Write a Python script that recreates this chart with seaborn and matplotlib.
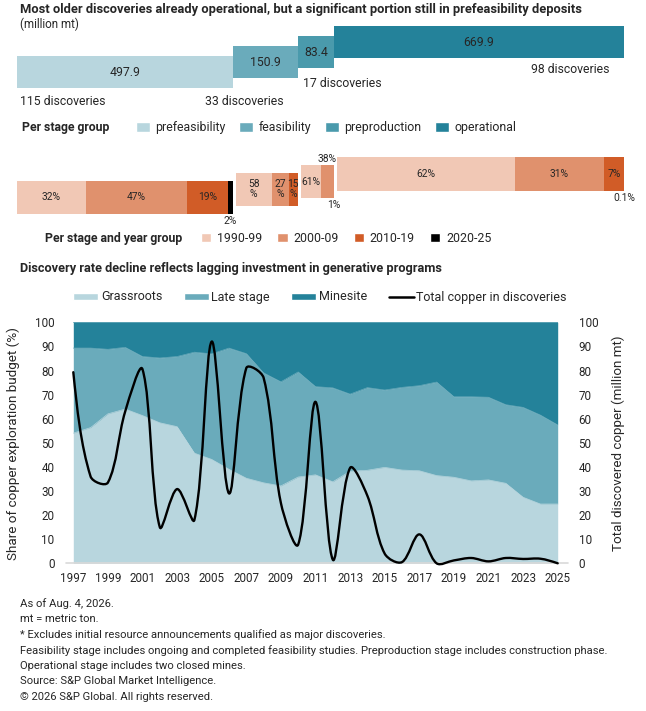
import matplotlib
matplotlib.use("Agg")
import matplotlib.pyplot as plt
from matplotlib.patches import Patch, PathPatch
from matplotlib.lines import Line2D
from matplotlib.path import Path
import seaborn as sns
import numpy as np

# Copper by development stage (million mt) and number of discoveries
stages = ["prefeasibility", "feasibility", "preproduction", "operational"]
stage_copper = [497.9, 150.9, 83.4, 669.9]
stage_discoveries = [115, 33, 17, 98]

# Share of each stage by discovery period (%)
periods = ["1990-99", "2000-09", "2010-19", "2020-25"]
share_1990s = [32, 58, 61, 62]
share_2000s = [47, 27, 38, 31]
share_2010s = [19, 15, 1, 7]
share_2020s = [2, 0, 0, 0.1]

# Exploration budget split (%) and copper in discoveries (million mt)
years = [1997, 1998, 1999, 2000, 2001, 2002, 2003, 2004, 2005, 2006,
         2007, 2008, 2009, 2010, 2011, 2012, 2013, 2014, 2015, 2016,
         2017, 2018, 2019, 2020, 2021, 2022, 2023, 2024, 2025]
grassroots = [54.0, 56.3, 62.0, 64.0, 61.3, 58.3, 56.7, 45.7, 43.1, 39.0,
              35.3, 33.4, 32.1, 35.8, 36.7, 33.8, 38.2, 38.6, 39.8, 38.7,
              38.4, 36.4, 35.7, 34.2, 34.6, 33.2, 27.4, 24.6, 24.6]
late_stage = [35.3, 33.0, 26.8, 25.6, 24.5, 26.9, 29.1, 41.9, 43.8, 50.3,
              51.7, 45.6, 43.2, 43.6, 36.6, 39.0, 32.0, 34.3, 32.1, 34.3,
              35.3, 38.8, 33.4, 34.9, 34.3, 32.6, 37.3, 36.9, 32.8]
minesite = [10.7, 10.7, 11.2, 10.4, 14.2, 14.8, 14.2, 12.4, 13.1, 10.7,
            13.0, 21.0, 24.7, 20.6, 26.7, 27.2, 29.8, 27.1, 28.1, 27.0,
            26.3, 24.8, 30.9, 30.9, 31.1, 34.2, 35.3, 38.5, 42.6]
copper_found = [79.3, 36, 33.5, 63, 80.5, 15, 30.8, 18, 92, 29,
                81, 77, 25, 7.8, 67, 1.5, 39.6, 28, 4, 0.5,
                12, 0, 1.2, 2.2, 0.8, 2.2, 1.8, 1.9, 0]

stage_colors = ["#B8D6DE", "#6AABBB", "#4A9AAC", "#24829A"]
period_colors = ["#F1C8B5", "#E0916D", "#D15C27", "#000000"]
budget_colors = [stage_colors[0], stage_colors[1], stage_colors[3]]
txt = "#262626"

sns.set_theme(style="white")
plt.rcParams["font.family"] = ["Roboto", "DejaVu Sans"]

W, H = 646, 711
fig = plt.figure(figsize=(W / 100, H / 100), dpi=100)


def box(l, t, r, b):
    # pixel box (from top-left) -> figure rect
    return [l / W, 1 - b / H, (r - l) / W, (b - t) / H]


def fy(py):
    return 1 - py / H


fig.text(20 / W, fy(10), "Most older discoveries already operational, but a significant portion still in prefeasibility deposits",
         fontsize=9.3, fontweight="bold", color=txt, va="center")
fig.text(20 / W, fy(24), "(million mt)", fontsize=8.4, color=txt, va="center")

# ---- top: stage totals, width proportional to copper ----
ax1 = fig.add_axes(box(17, 18.3, 624, 113.3))
total = sum(stage_copper)
lefts = np.concatenate([[0], np.cumsum(stage_copper)[:-1]])
levels = np.arange(len(stages))
bar_h = 3.25
ax1.bar(lefts, bar_h, width=stage_copper, bottom=levels, align="edge",
        color=stage_colors, linewidth=0)
for left, w, lv, v in zip(lefts, stage_copper, levels, stage_copper):
    ax1.text(left + w / 2, lv + bar_h / 2, f"{v:.1f}", ha="center", va="center",
             fontsize=8.8, color=txt)
# (anchor, dx, dy, ha) for the discovery counts
disc_layout = [("left", 7, -1.27, "left"), ("left", 27.6, -2.34, "center"),
               ("left", 11, -1.5, "left"), ("right", -32.7, -1.07, "right")]
for left, w, lv, n, (anc, dx, dy, ha) in zip(lefts, stage_copper, levels,
                                             stage_discoveries, disc_layout):
    x0 = left if anc == "left" else left + w
    ax1.text(x0 + dx, lv + dy, f"{n} discoveries", ha=ha, va="center",
             fontsize=8.8, color=txt)
ax1.set_xlim(0, total)
ax1.set_ylim(-2.5, 7.0)
ax1.axis("off")

fig.text(21.5 / W, fy(127.7), "Per stage group", fontsize=8.8, fontweight="bold",
         color=txt, va="center")
fig.legend(handles=[Patch(facecolor=c, label=s) for s, c in zip(stages, stage_colors)],
           loc="center left", bbox_to_anchor=(136 / W, fy(127.7)), ncol=4, frameon=False,
           fontsize=8.9, handlelength=1.12, handleheight=0.92, handletextpad=0.45,
           columnspacing=1.1, borderpad=0, borderaxespad=0, labelcolor=txt)

# ---- middle: each stage split by discovery period ----
ax2 = fig.add_axes(box(17, 145, 624, 230))
shares = [share_1990s, share_2000s, share_2010s, share_2020s]
gap = 7.0
row_step, row_h = 0.78, 3.35
label_pos = {(0, 0): "in", (0, 1): "in", (0, 2): "in", (0, 3): "below",
             (1, 0): "in2", (1, 1): "in2", (1, 2): "in2",
             (2, 0): "in", (2, 1): "above", (2, 2): "below",
             (3, 0): "in", (3, 1): "in", (3, 2): "in", (3, 3): "below"}
for i in range(len(stages)):
    start = lefts[i] + (gap if i else 0)
    width = stage_copper[i] - (gap if i else 0)
    bottom = i * row_step
    x = start
    for j in range(len(periods)):
        s = shares[j][i]
        if s <= 0:
            continue
        sw = width * s / 100
        ax2.bar(x, row_h, width=sw, bottom=bottom, align="edge",
                color=period_colors[j], linewidth=0)
        pos = label_pos.get((i, j))
        cx = x + sw / 2
        lab = f"{s:g}%"
        if pos == "in":
            ax2.text(cx, bottom + row_h / 2, lab, ha="center", va="center", fontsize=7.4, color=txt)
        elif pos == "in2":
            ax2.text(cx, bottom + row_h / 2, f"{s:g}\n%", ha="center", va="center",
                     fontsize=7.4, color=txt, linespacing=1.0)
        elif pos == "above":
            ax2.text(cx, bottom + row_h + 0.05, lab, ha="center", va="bottom", fontsize=7.4, color=txt)
        elif pos == "below":
            ax2.text(cx, bottom - 0.2, lab, ha="center", va="top", fontsize=7.4, color=txt)
        x += sw
ax2.set_xlim(0, total)
ax2.set_ylim(-1.6, 6.9)
ax2.axis("off")

fig.text(44.6 / W, fy(238.3), "Per stage and year group", fontsize=8.8, fontweight="bold",
         color=txt, va="center")
fig.legend(handles=[Patch(facecolor=c, label=p) for p, c in zip(periods, period_colors)],
           loc="center left", bbox_to_anchor=(201 / W, fy(238.3)), ncol=4, frameon=False,
           fontsize=8.9, handlelength=0.82, handleheight=0.82, handletextpad=0.45,
           columnspacing=1.25, borderpad=0, borderaxespad=0, labelcolor=txt)

# ---- bottom: budget split (areas) and copper in discoveries (line) ----
fig.text(20 / W, fy(268.3), "Discovery rate decline reflects lagging investment in generative programs",
         fontsize=9.2, fontweight="bold", color=txt, va="center")

ax3 = fig.add_axes(box(73.3, 322.3, 557.7, 563.3))
lower = np.zeros(len(years))
for vals, c in zip([grassroots, late_stage, minesite], budget_colors):
    upper = lower + np.array(vals)
    ax3.fill_between(years, lower, upper, color=c, linewidth=0)
    sns.lineplot(x=years, y=upper, color=c, linewidth=0.5, ax=ax3)
    lower = upper
ax3.set_xlim(years[0], years[-1])
ax3.set_ylim(0, 100)
ax3.set_xticks(years[::2])
ax3.set_yticks(range(0, 101, 10))
ax3.tick_params(axis="both", length=0, labelsize=8.4, colors=txt)
ax3.tick_params(axis="y", pad=13.5)
ax3.tick_params(axis="x", pad=6)
for sp in ax3.spines.values():
    sp.set_visible(False)
ax3.set_xlabel("")
ax3.set_ylabel("")
ax3.add_line(Line2D([-0.015, 1.022], [0, 0], transform=ax3.transAxes, color="#D9D9D9",
                    linewidth=1.2, clip_on=False, zorder=1))

ax3r = ax3.twinx()
ax3r.set_ylim(0, 100)
ax3r.set_yticks(range(0, 101, 10))
ax3r.tick_params(axis="y", length=0, labelsize=8.4, colors=txt, pad=15)
for sp in ax3r.spines.values():
    sp.set_visible(False)


def smooth_path(ax, xs, ys):
    # Excel-style smoothed line: cubic Bezier through every point, with
    # tangents weighted by on-screen segment lengths
    trans = ax.transData
    pts = trans.transform(np.column_stack([xs, ys]).astype(float))
    n = len(pts)
    seg = np.hypot(*np.diff(pts, axis=0).T)
    c_out, c_in = [], []
    for i in range(n):
        if i == 0 or i == n - 1:
            c_out.append(pts[i])
            c_in.append(pts[i])
            continue
        tan = pts[i + 1] - pts[i - 1]
        d0, d1 = seg[i - 1], seg[i]
        c_out.append(pts[i] + tan * d1 / (d0 + d1) / 3)
        c_in.append(pts[i] - tan * d0 / (d0 + d1) / 3)
    c_out[0] = pts[0] + (c_in[1] - pts[0]) / 2
    c_in[-1] = pts[-1] + (c_out[-2] - pts[-1]) / 2
    verts, codes = [pts[0]], [Path.MOVETO]
    for i in range(n - 1):
        verts += [c_out[i], c_in[i + 1], pts[i + 1]]
        codes += [Path.CURVE4] * 3
    return Path(trans.inverted().transform(np.array(verts)), codes)


ax3r.add_patch(PathPatch(smooth_path(ax3r, years, copper_found), facecolor="none",
                         edgecolor="black", linewidth=1.7, capstyle="round",
                         joinstyle="round", clip_on=False))

fig.text(13 / W, fy(443.5), "Share of copper exploration budget (%)", rotation=90,
         ha="center", va="center", fontsize=9.7, color=txt)
fig.text(618.6 / W, fy(442.8), "Total discovered copper (million mt)", rotation=90,
         ha="center", va="center", fontsize=9.6, color=txt)

leg_handles = [Patch(facecolor=c, label=l) for l, c in
               zip(["Grassroots", "Late stage", "Minesite"], budget_colors)]
leg_handles.append(Line2D([], [], color="black", linewidth=1.8, label="Total copper in discoveries"))
fig.legend(handles=leg_handles, loc="center left", bbox_to_anchor=(73.3 / W, fy(297)),
           ncol=4, frameon=False, fontsize=9, handlelength=2.0, handleheight=0.48,
           handletextpad=0.22, columnspacing=1.7, borderpad=0, borderaxespad=0,
           labelcolor=txt)

notes = ["As of Aug. 4, 2026.",
         "mt = metric ton.",
         "* Excludes initial resource announcements qualified as major discoveries.",
         "Feasibility stage includes ongoing and completed feasibility studies. Preproduction stage includes construction phase.",
         "Operational stage includes two closed mines.",
         "Source: S&P Global Market Intelligence.",
         "\u00a9 2026 S&P Global. All rights reserved."]
for k, line in enumerate(notes):
    fig.text(20 / W, fy(604 + 15.5 * k), line, fontsize=8.1, color=txt, va="center")

fig.savefig("out.png", dpi=100)
